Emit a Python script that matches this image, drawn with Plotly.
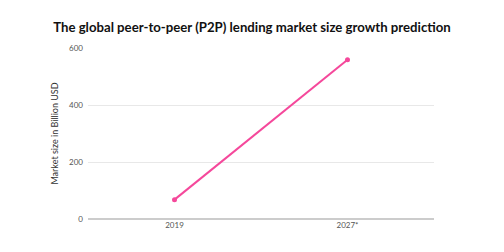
import plotly.graph_objects as go

years = ["2019", "2027*"]
market_size = [67.93, 558.91]
y_ticks = [0, 200, 400, 600]

fig = go.Figure()
fig.add_trace(go.Scatter(
    x=years, y=market_size, mode="lines+markers",
    line=dict(color="#f5489b", width=2),
    marker=dict(color="#f5489b", size=5),
    hoverinfo="skip",
))
fig.update_layout(
    width=504, height=252,
    margin=dict(l=88, r=70, t=48, b=33),
    paper_bgcolor="white", plot_bgcolor="white",
    showlegend=False,
    font=dict(family="Lato", color="#555555"),
    title=dict(text="<b>The global peer-to-peer (P2P) lending market size growth prediction</b>",
               x=0.5, xanchor="center", y=0.89, yanchor="middle",
               font=dict(family="Lato", size=13.2, color="#111111")),
)
fig.update_xaxes(type="category", range=[-0.5, 1.5], showgrid=False,
                 tickfont=dict(size=8, color="#555555"), ticks="", showline=False)
fig.update_yaxes(range=[0, 600], tickvals=y_ticks, showgrid=True, gridcolor="#e8e8e8",
                 gridwidth=1, zeroline=True, zerolinecolor="#cccccc", zerolinewidth=1.5,
                 tickfont=dict(size=8, color="#555555"), ticks="", ticklabelstandoff=4,
                 title=dict(text="Market size in Billion USD", font=dict(size=9, color="#333333"),
                            standoff=8))
fig.write_html("out.html")
